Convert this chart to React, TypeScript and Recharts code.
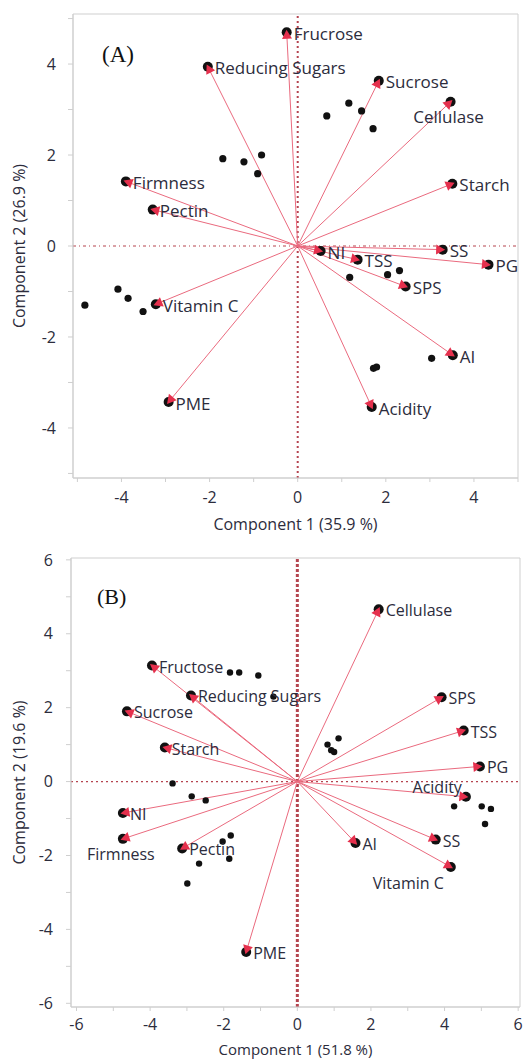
import React from 'react';
import {
  ScatterChart,
  Scatter,
  XAxis,
  YAxis,
  ReferenceLine,
  ReferenceArea,
} from 'recharts';

// ---------- Panel A: loadings (variables) ----------
const varsA = [
  'Frucrose', 'Reducing Sugars', 'Sucrose', 'Cellulase', 'Starch', 'Firmness',
  'Pectin', 'SS', 'PG', 'NI', 'TSS', 'SPS', 'AI', 'Acidity', 'PME', 'Vitamin C',
];
const loadXA = [-0.25, -2.04, 1.84, 3.47, 3.51, -3.9, -3.29, 3.29, 4.33, 0.52, 1.36, 2.45, 3.52, 1.68, -2.93, -3.22];
const loadYA = [4.7, 3.94, 3.63, 3.17, 1.37, 1.42, 0.8, -0.08, -0.41, -0.11, -0.3, -0.89, -2.4, -3.54, -3.43, -1.28];

// Panel A: sample scores
const scoreXA = [0.66, 1.16, 1.45, 1.71, -1.7, -1.22, -0.82, -0.91, 1.18, 2.04, 2.31, -4.08, -3.85, -3.51, -4.83, 3.04, 1.72, 1.79];
const scoreYA = [2.86, 3.14, 2.97, 2.58, 1.92, 1.85, 2.0, 1.59, -0.69, -0.63, -0.54, -0.95, -1.15, -1.44, -1.3, -2.47, -2.69, -2.66];

// ---------- Panel B: loadings (variables) ----------
const varsB = [
  'Cellulase', 'Fructose', 'Reducing Sugars', 'Sucrose', 'Starch', 'SPS', 'TSS', 'PG',
  'Acidity', 'NI', 'Firmness', 'Pectin', 'AI', 'SS', 'Vitamin C', 'PME',
];
const loadXB = [2.21, -3.95, -2.89, -4.63, -3.6, 3.92, 4.52, 4.96, 4.58, -4.74, -4.74, -3.13, 1.58, 3.76, 4.17, -1.39];
const loadYB = [4.66, 3.14, 2.33, 1.9, 0.92, 2.28, 1.38, 0.41, -0.41, -0.85, -1.55, -1.81, -1.66, -1.57, -2.31, -4.61];

// Panel B: sample scores
const scoreXB = [-1.83, -1.58, -1.06, -0.65, 0.82, 0.92, 1.0, 1.12, -3.39, -2.87, -2.49, -2.03, -1.81, -1.85, -2.67, -2.99, 4.26, 5.01, 5.26, 5.1];
const scoreYB = [2.95, 2.95, 2.87, 2.3, 1.0, 0.85, 0.8, 1.17, -0.05, -0.4, -0.51, -1.62, -1.46, -2.09, -2.22, -2.76, -0.67, -0.67, -0.74, -1.15];

// Axis ticks (labels only on even values)
const ticksA = [-5, -4, -3, -2, -1, 0, 1, 2, 3, 4, 5];
const ticksB = [-6, -5, -4, -3, -2, -1, 0, 1, 2, 3, 4, 5, 6];

// Label placement around each arrow tip
const placeA: Record<string, string> = { Cellulase: 'below' };
const placeB: Record<string, string> = { Acidity: 'aboveLeft', Firmness: 'below', 'Vitamin C': 'belowLeft' };

const FONT = '"Open Sans", "DejaVu Sans", sans-serif';
const VEC_COLOR = '#e5304d';
const LINE_COLOR = '#ea6a7e';
const REF_COLOR = '#b5444f';
const FRAME_COLOR = '#cfcfcf';
const TEXT_COLOR = '#2c2c3c';

type PanelProps = {
  tag: string;
  top: number;
  width: number;
  height: number;
  margin: { top: number; right: number; bottom: number; left: number };
  yAxisWidth: number;
  xAxisHeight: number;
  xDomain: [number, number];
  yDomain: [number, number];
  ticks: number[];
  vars: string[];
  lx: number[];
  ly: number[];
  sx: number[];
  sy: number[];
  place: Record<string, string>;
  xTitle: string;
  yTitle: string;
  xTitleOffset: number;
  xTitleSize: number;
  labelSize: number;
  dotR: number;
  xTickMargin: number;
  yTickMargin: number;
  vDash: string;
  vWidth: number;
  hDash: string;
  tagPos: { left: number; top: number; size: number };
};

const evenLabel = (v: number) => (Math.round(v) % 2 === 0 ? String(v) : '');

function Panel(p: PanelProps) {
  const plotW = p.width - p.margin.left - p.margin.right - p.yAxisWidth;
  const plotH = p.height - p.margin.top - p.margin.bottom - p.xAxisHeight;
  const pxX = plotW / (p.xDomain[1] - p.xDomain[0]);
  const pxY = plotH / (p.yDomain[1] - p.yDomain[0]);

  const loadings = p.vars.map((name, i) => ({ name, x: p.lx[i], y: p.ly[i] }));
  const scores = p.sx.map((x, i) => ({ x, y: p.sy[i] }));

  const tipShape = (props: any) => {
    const { cx, cy, payload } = props;
    if (cx == null || cy == null) return <g />;
    const dx = payload.x * pxX;
    const dy = -payload.y * pxY;
    const len = Math.sqrt(dx * dx + dy * dy) || 1;
    const ux = dx / len;
    const uy = dy / len;
    const L = 9;
    const W = 5;
    const hx = cx + ux * 2.5;
    const hy = cy + uy * 2.5;
    const bx = hx - ux * L;
    const by = hy - uy * L;
    const pts = `${hx},${hy} ${bx - uy * W},${by + ux * W} ${bx + uy * W},${by - ux * W}`;
    const where = p.place[payload.name] || 'right';
    let tx = cx + 7;
    let ty = cy + 1;
    let anchor: 'start' | 'middle' | 'end' = 'start';
    if (where === 'below') {
      tx = cx - 2;
      ty = cy + 15;
      anchor = 'middle';
    } else if (where === 'belowLeft') {
      tx = cx - 7;
      ty = cy + 16;
      anchor = 'end';
    } else if (where === 'aboveLeft') {
      tx = cx - 4;
      ty = cy - 10;
      anchor = 'end';
    }
    return (
      <g>
        <circle cx={cx} cy={cy} r={5} fill="#111" />
        <polygon points={pts} fill={VEC_COLOR} />
        <text
          x={tx}
          y={ty}
          textAnchor={anchor}
          dominantBaseline="central"
          fontFamily={FONT}
          fontSize={p.labelSize}
          fill={TEXT_COLOR}
        >
          {payload.name}
        </text>
      </g>
    );
  };

  const yTitle = (props: any) => {
    const vb = props.viewBox || {};
    const cx = 19;
    const cy = (vb.y ?? 0) + (vb.height ?? 0) / 2;
    return (
      <text
        x={cx}
        y={cy}
        transform={`rotate(-90, ${cx}, ${cy})`}
        textAnchor="middle"
        dominantBaseline="central"
        fontFamily={FONT}
        fontSize={16}
        fill={TEXT_COLOR}
      >
        {p.yTitle}
      </text>
    );
  };

  const tickStyle = { fontFamily: FONT, fontSize: 16, fill: TEXT_COLOR };

  return (
    <div style={{ position: 'absolute', left: 0, top: p.top, width: p.width, height: p.height }}>
      <ScatterChart width={p.width} height={p.height} margin={p.margin}>
        <XAxis
          type="number"
          dataKey="x"
          domain={p.xDomain}
          ticks={p.ticks}
          allowDataOverflow
          height={p.xAxisHeight}
          tickFormatter={evenLabel}
          tick={tickStyle}
          tickSize={4}
          tickMargin={p.xTickMargin}
          stroke={FRAME_COLOR}
          interval={0}
          label={{
            value: p.xTitle,
            position: 'insideBottom',
            offset: p.xTitleOffset,
            fontFamily: FONT,
            fontSize: p.xTitleSize,
            fill: TEXT_COLOR,
          }}
        />
        <YAxis
          type="number"
          dataKey="y"
          domain={p.yDomain}
          ticks={p.ticks}
          allowDataOverflow
          width={p.yAxisWidth}
          tickFormatter={evenLabel}
          tick={tickStyle}
          tickSize={5}
          tickMargin={p.yTickMargin}
          stroke={FRAME_COLOR}
          interval={0}
          label={{ content: yTitle }}
        />
        <ReferenceArea
          x1={p.xDomain[0]}
          x2={p.xDomain[1]}
          y1={p.yDomain[0]}
          y2={p.yDomain[1]}
          fill="none"
          stroke={FRAME_COLOR}
          strokeWidth={1}
        />
        <ReferenceLine y={0} stroke={REF_COLOR} strokeDasharray={p.hDash} strokeWidth={1.2} />
        <ReferenceLine x={0} stroke={REF_COLOR} strokeDasharray={p.vDash} strokeWidth={p.vWidth} />
        {loadings.map((d) => (
          <ReferenceLine
            key={d.name}
            segment={[
              { x: 0, y: 0 },
              { x: d.x, y: d.y },
            ]}
            stroke={LINE_COLOR}
            strokeWidth={1}
          />
        ))}
        <Scatter data={scores} fill="#111" isAnimationActive={false} shape={(s: any) => (
          <circle cx={s.cx} cy={s.cy} r={p.dotR} fill="#111" />
        )} />
        <Scatter data={loadings} isAnimationActive={false} shape={tipShape} />
      </ScatterChart>
      <div
        style={{
          position: 'absolute',
          left: p.tagPos.left,
          top: p.tagPos.top,
          fontFamily: '"Liberation Serif", "DejaVu Serif", serif',
          fontSize: p.tagPos.size,
          color: '#111',
          lineHeight: 1,
        }}
      >
        {p.tag}
      </div>
    </div>
  );
}

export default function App() {
  return (
    <div style={{ position: 'absolute', left: 0, top: 0, width: 528, height: 1059, background: '#fff' }}>
      <Panel
        tag="(A)"
        top={0}
        width={528}
        height={535}
        margin={{ top: 14, right: 10, bottom: 0, left: 0 }}
        yAxisWidth={73}
        xAxisHeight={57}
        xDomain={[-5.1, 5.0]}
        yDomain={[-5.1, 5.1]}
        ticks={ticksA}
        vars={varsA}
        lx={loadXA}
        ly={loadYA}
        sx={scoreXA}
        sy={scoreYA}
        place={placeA}
        xTitle="Component 1 (35.9 %)"
        yTitle="Component 2 (26.9 %)"
        xTitleOffset={5}
        xTitleSize={16}
        labelSize={17}
        dotR={3.6}
        xTickMargin={10}
        yTickMargin={12}
        vDash="2 3"
        vWidth={2}
        hDash="3 3 1 3"
        tagPos={{ left: 102, top: 43, size: 23 }}
      />
      <Panel
        tag="(B)"
        top={540}
        width={528}
        height={519}
        margin={{ top: 18, right: 8, bottom: 0, left: 0 }}
        yAxisWidth={71}
        xAxisHeight={52}
        xDomain={[-6.15, 6.05]}
        yDomain={[-6.1, 6.05]}
        ticks={ticksB}
        vars={varsB}
        lx={loadXB}
        ly={loadYB}
        sx={scoreXB}
        sy={scoreYB}
        place={placeB}
        xTitle="Component 1 (51.8 %)"
        yTitle="Component 2 (19.6 %)"
        xTitleOffset={4}
        xTitleSize={15}
        labelSize={16}
        dotR={3.2}
        xTickMargin={8}
        yTickMargin={13}
        vDash="3 2"
        vWidth={3}
        hDash="2 3"
        tagPos={{ left: 97, top: 46, size: 22 }}
      />
    </div>
  );
}
